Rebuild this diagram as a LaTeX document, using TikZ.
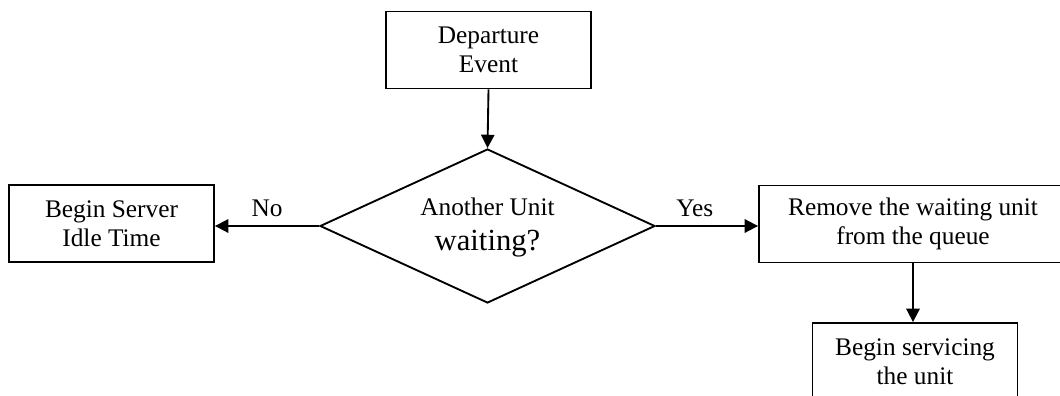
\documentclass[tikz,border=0pt]{standalone}
\usepackage{fontspec}
\setmainfont{Liberation Serif}
\usetikzlibrary{shapes.geometric,arrows.meta}
\begin{document}
\begin{tikzpicture}[x=0.75pt,y=-0.75pt,
  box/.style={draw,line width=1.4pt,align=center,inner sep=0pt,
    minimum width=153.75pt,minimum height=57.75pt,
    font=\fontsize{19}{22}\selectfont},
  dec/.style={draw,shape=diamond,line width=1.4pt,inner sep=0pt,shape aspect=2.175,
    minimum width=251.25pt,minimum height=115.5pt},
  flow/.style={line width=1.4pt,-{Triangle[length=10pt,width=10pt]}},
  lbl/.style={font=\fontsize{19}{22}\selectfont,inner sep=0pt}]
\useasboundingbox (0,0) rectangle (1060,396);
\node[box] (dep) at (488.5,50) {Departure\\Event};
\node[box] (idle) at (111.5,223.5) {Begin Server\\Idle Time};
\node[box,minimum width=231pt] (rem) at (913,224) {Remove the waiting unit\\from the queue};
\node[box] (serv) at (915,361.5) {Begin servicing\\the unit};
\node[dec] (q) at (487.5,226) {};
\node[lbl,anchor=base] (qt1) at (487.5,215) {Another Unit};
\node[inner sep=0pt,anchor=base,font=\fontsize{23}{26}\selectfont] (qt2) at (487.5,250) {waiting?};
\draw[flow] (dep.south) -- (q.north);
\draw[flow] (q.west) -- (q.west -| idle.east) node[lbl,pos=0.5,above=6pt] (no) {No};
\draw[flow] (q.east) -- (q.east -| rem.west) node[lbl,pos=0.38,above=6pt] (yes) {Yes};
\draw[flow] (rem.south) -- (rem.south |- serv.north);
\end{tikzpicture}
\end{document}
